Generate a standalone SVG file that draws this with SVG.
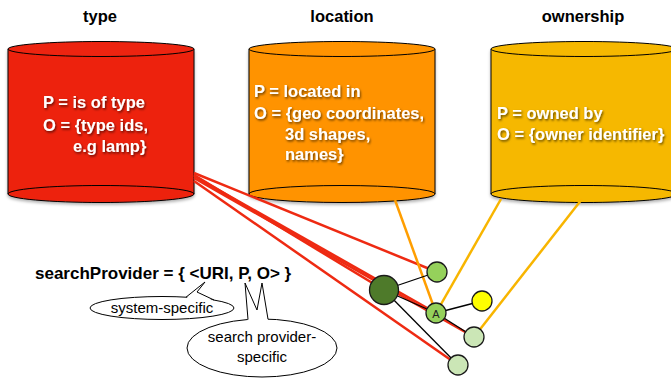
<svg xmlns="http://www.w3.org/2000/svg" width="671" height="381" viewBox="0 0 671 381">
<defs>
<filter id="ts" x="-10%" y="-30%" width="130%" height="160%"><feDropShadow dx="1" dy="1.5" stdDeviation="1.2" flood-color="#000" flood-opacity="0.6"/></filter>
<filter id="cs" x="-10%" y="-10%" width="120%" height="130%"><feDropShadow dx="0" dy="2" stdDeviation="1.5" flood-color="#000" flood-opacity="0.3"/></filter>
</defs>
<style>
.title{font-family:"Liberation Sans",Arial,sans-serif;font-weight:bold;font-size:16.5px;fill:#000;text-anchor:middle}
.body{font-family:"Liberation Sans",Arial,sans-serif;font-weight:bold;font-size:16.5px;fill:#fff;filter:url(#ts)}
.cyl{stroke:#000;stroke-width:1}
.red{fill:#ED2410}
.org{fill:#FF9300}
.yel{fill:#F6B800}
.eq{font-family:"Liberation Sans",Arial,sans-serif;font-weight:bold;font-size:17px;fill:#000}
.call{font-family:"Liberation Sans",Arial,sans-serif;font-size:15px;fill:#000;text-anchor:middle}
.bub{fill:#fff;stroke:#000;stroke-width:1}
.tail{fill:none;stroke:#000;stroke-width:1;stroke-linejoin:miter}
.rl{stroke:#EE2A12;stroke-width:2.5;fill:none}
.ol{stroke:#FF9E00;stroke-width:2.5;fill:none}
.yl{stroke:#F8B500;stroke-width:2.5;fill:none}
.bl{stroke:#000;stroke-width:1.3;fill:none}
.nd{stroke:#1a1a1a;stroke-width:1.3}
</style>
<rect width="671" height="381" fill="#fff"/>
<text class="title" x="100" y="22">type</text>
<text class="title" x="342" y="22">location</text>
<text class="title" x="583" y="22">ownership</text>

<g id="type">
<g filter="url(#cs)">
<path class="cyl red" d="M8,49 L8,194 A93,8.5 0 0 0 194,194 L194,49 Z"/>
</g>
<path class="cyl" d="M8,194 A93,8.5 0 0 1 194,194" fill="none"/>
<ellipse class="cyl red" cx="101" cy="49" rx="93" ry="7.5"/>
<text class="body" x="43" y="108">P = is of type</text>
<text class="body" x="43" y="131">O = {type ids,</text>
<text class="body" x="73" y="152">e.g lamp}</text>
</g>

<g id="location">
<g filter="url(#cs)">
<path class="cyl org" d="M249,49 L249,194 A93,8.5 0 0 0 435,194 L435,49 Z"/>
</g>
<path class="cyl" d="M249,194 A93,8.5 0 0 1 435,194" fill="none"/>
<ellipse class="cyl org" cx="342" cy="49" rx="93" ry="7.5"/>
<text class="body" x="254" y="97">P = located in</text>
<text class="body" x="254" y="119">O = {geo coordinates,</text>
<text class="body" x="285" y="140">3d shapes,</text>
<text class="body" x="285" y="160">names}</text>
</g>

<g id="ownership">
<g filter="url(#cs)">
<path class="cyl yel" d="M491,49 L491,194 A93,8.5 0 0 0 677,194 L677,49 Z"/>
</g>
<path class="cyl" d="M491,194 A93,8.5 0 0 1 677,194" fill="none"/>
<ellipse class="cyl yel" cx="584" cy="49" rx="93" ry="7.5"/>
<text class="body" x="497" y="119">P = owned by</text>
<text class="body" x="497" y="140">O = {owner identifier}</text>
</g>

<g id="connectors">
<line class="rl" x1="194" y1="173" x2="437" y2="272"/>
<line class="rl" x1="194" y1="175" x2="384" y2="290"/>
<line class="rl" x1="194" y1="176" x2="436" y2="313"/>
<line class="rl" x1="194" y1="178" x2="474" y2="337"/>
<line class="rl" x1="194" y1="181" x2="458" y2="365"/>
<line class="ol" x1="395" y1="200" x2="436" y2="313"/>
<line class="yl" x1="501" y1="199" x2="436" y2="313"/>
<line class="yl" x1="582" y1="199" x2="474" y2="337"/>
<line class="bl" x1="384" y1="290" x2="437" y2="272"/>
<line class="bl" x1="384" y1="290" x2="436" y2="313"/>
<line class="bl" x1="384" y1="290" x2="458" y2="365"/>
<line class="bl" x1="436" y1="313" x2="482" y2="301"/>
<line class="bl" x1="436" y1="313" x2="474" y2="337"/>
</g>

<g id="n-big"><circle class="nd" cx="384" cy="290" r="14.5" fill="#4E7A2A"/></g>
<g id="n-1"><circle class="nd" cx="437" cy="272" r="10" fill="#95D15B"/></g>
<g id="n-A"><circle class="nd" cx="436" cy="313" r="10" fill="#95D15B"/>
<text x="436" y="317.5" font-family="Liberation Sans,Arial,sans-serif" font-size="11" text-anchor="middle" fill="#222">A</text></g>
<g id="n-yellow"><circle class="nd" cx="482" cy="301" r="10" fill="#FFFF00"/></g>
<g id="n-3"><circle class="nd" cx="474" cy="337" r="10" fill="#CBE6B6"/></g>
<g id="n-4"><circle class="nd" cx="458" cy="365" r="10" fill="#CBE6B6"/></g>

<g id="formula">
<text class="eq" x="35" y="279">searchProvider = { &lt;URI, P, O&gt; }</text>
</g>

<g id="callout-system">
<ellipse class="bub" cx="162" cy="308" rx="72" ry="11.5"/>
<polygon points="186,298.5 205,282 197,292 214,301" fill="#fff"/>
<polyline class="tail" points="186,297.2 205,282 197,292 214,300"/>
<text class="call" x="162" y="313">system-specific</text>
</g>

<g id="callout-provider">
<ellipse class="bub" cx="262" cy="348" rx="75" ry="29"/>
<polygon points="248,320.5 245,283 257,310 262,283 268,320" fill="#fff"/>
<polyline class="tail" points="248,319.5 245,283 257,310 262,283 268,319.1"/>
<text class="call" x="262" y="342">search provider-</text>
<text class="call" x="262" y="362">specific</text>
</g>
</svg>
